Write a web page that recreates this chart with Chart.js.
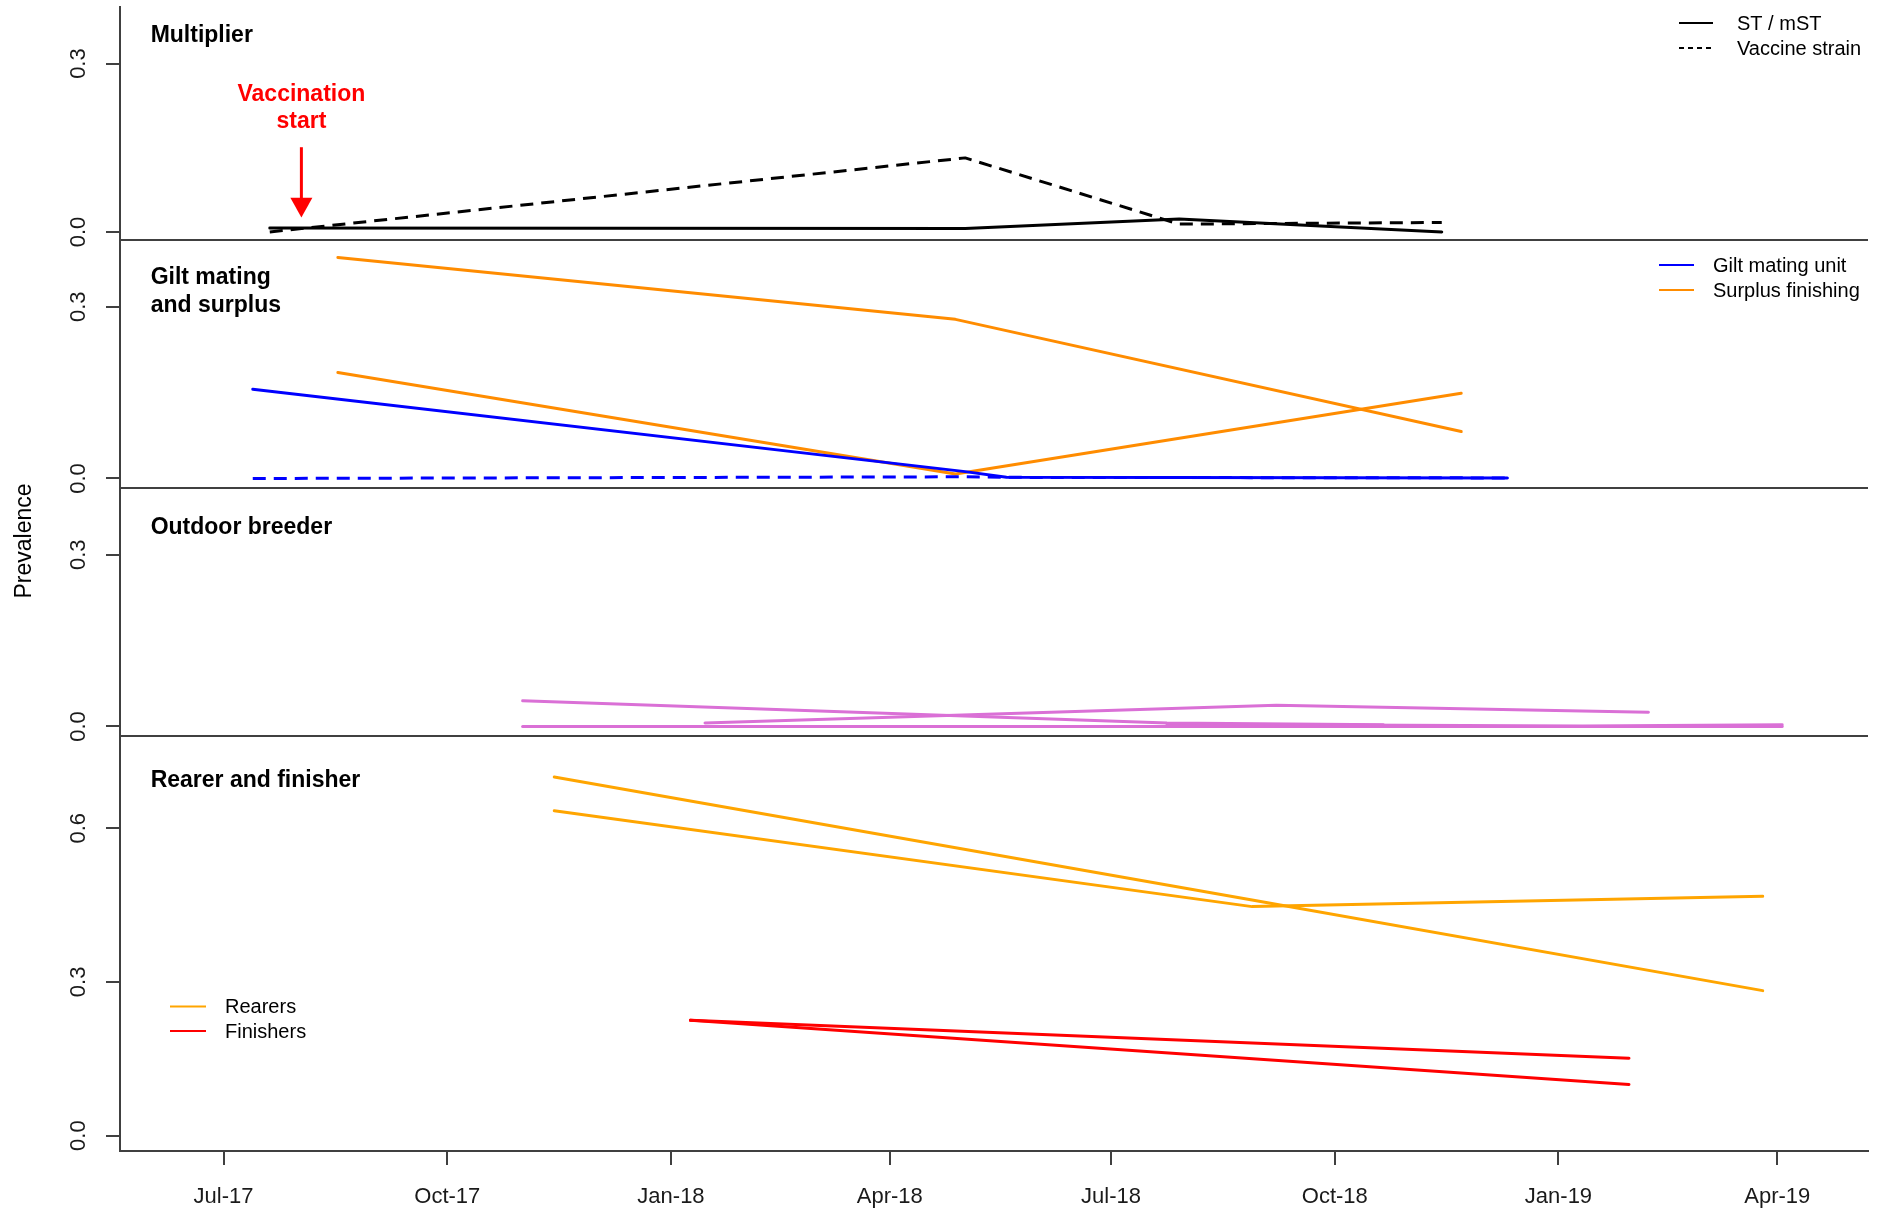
<!DOCTYPE html>
<html>
<head>
<meta charset="utf-8">
<title>Prevalence by unit</title>
<script src="https://cdn.jsdelivr.net/npm/chart.js@4.4.1/dist/chart.umd.min.js"></script>
<style>
  html, body { margin: 0; padding: 0; background: #ffffff; }
  canvas { display: block; }
</style>
</head>
<body>
<canvas id="prevChart" width="1880" height="1210"></canvas>
<script>
// x axis ticks
var tickDates  = ['2017-07-01', '2017-10-01', '2018-01-01', '2018-04-01', '2018-07-01', '2018-10-01', '2019-01-01', '2019-04-01'];
var tickLabels = ['Jul-17', 'Oct-17', 'Jan-18', 'Apr-18', 'Jul-18', 'Oct-18', 'Jan-19', 'Apr-19'];

// Multiplier
var multDates   = ['2017-07-20', '2018-05-02', '2018-07-29', '2018-11-14'];
var multST      = [0.007, 0.006, 0.023, 0.000];
var multVaccine = [0.000, 0.132, 0.014, 0.017];

// Gilt mating unit
var giltDates   = ['2017-07-13', '2018-05-02', '2018-05-19', '2018-12-11'];
var giltST      = [0.156, 0.012, 0.002, 0.001];
var giltVaccine = [0.000, 0.003, 0.002, 0.001];

// Surplus finishing
var surplusDates = ['2017-08-17', '2018-04-28', '2018-11-22'];
var surplusA     = [0.386, 0.278, 0.082];
var surplusB     = [0.185, 0.008, 0.149];

// Outdoor breeder
var outdoorDatesA = ['2017-11-01', '2018-07-24', '2018-10-21'];
var outdoorA      = [0.045, 0.006, 0.003];
var outdoorDatesB = ['2018-01-15', '2018-09-07', '2019-02-07'];
var outdoorB      = [0.006, 0.037, 0.025];
var outdoorDatesC = ['2017-11-01', '2018-05-02', '2019-04-03'];
var outdoorC      = [0.000, 0.000, 0.000];
var outdoorDatesD = ['2018-07-24', '2019-01-11', '2019-04-03'];
var outdoorD      = [0.004, 0.001, 0.003];

// Rearers and finishers
var rearerDates   = ['2017-11-14', '2018-08-28', '2019-03-26'];
var rearerA       = [0.700, 0.460, 0.283];
var rearerB       = [0.634, 0.447, 0.467];
var finisherDates = ['2018-01-09', '2019-01-30'];
var finisherA     = [0.225, 0.151];
var finisherB     = [0.225, 0.100];

var vaccinationDate = '2017-08-02';

var FONT = "'Liberation Sans', Arial, Helvetica, sans-serif";
var axisColor = '#404040';
var BLACK = '#000000', BLUE = '#0000ff', DARKORANGE = '#ff8c00',
    ORCHID = '#da70d6', ORANGE = '#ffa500', RED = '#ff0000';
var vaccineDash = [13, 8];

function day(s) {
  var p = s.split('-');
  return Date.UTC(+p[0], +p[1] - 1, +p[2]) / 86400000;
}
function pts(dates, vals) {
  return dates.map(function(d, i) { return {x: day(d), y: vals[i]}; });
}
function line(label, dates, vals, color, axis, dash) {
  return {
    label: label,
    data: pts(dates, vals),
    yAxisID: axis,
    borderColor: color,
    backgroundColor: color,
    borderWidth: 3,
    borderDash: dash || [],
    borderCapStyle: dash ? 'butt' : 'round',
    borderJoinStyle: 'round',
    pointRadius: 0,
    tension: 0,
    fill: false
  };
}

var tickDays = tickDates.map(day);
var xStart = tickDays[0];

function yAxis(min, max, stackWeight, order, tickVals) {
  return {
    type: 'linear',
    position: 'left',
    stack: 'panels',
    stackWeight: stackWeight,
    weight: order,
    min: min,
    max: max,
    border: { display: true, color: axisColor, width: 2 },
    grid: { drawOnChartArea: false, drawTicks: true, tickLength: 14, color: axisColor, lineWidth: 2 },
    ticks: {
      minRotation: 90, maxRotation: 90, crossAlign: 'center', padding: 12,
      color: '#1a1a1a', font: { family: FONT, size: 22 },
      callback: function(v) { return v.toFixed(1); }
    },
    afterBuildTicks: function(s) { s.ticks = tickVals.map(function(v) { return {value: v}; }); },
    afterFit: function(s) {
      s.width = 120;
      // labels may overhang the panel edges, keep the stack flush
      s.paddingTop = 0;
      s.paddingBottom = 0;
    }
  };
}

// titles, legends, separators and the vaccination arrow
var panelTitles = [
  { axis: 'yMult', lines: ['Multiplier'], at: [0.338] },
  { axis: 'yGilt', lines: ['Gilt mating', 'and surplus'], at: [0.339, 0.291] },
  { axis: 'yOut',  lines: ['Outdoor breeder'], at: [0.336] },
  { axis: 'yRear', lines: ['Rearer and finisher'], at: [0.681] }
];
var legendBoxes = [
  { lineX: 1679, lineLen: 34, textX: 1737, rows: [23, 48],
    items: [{ text: 'ST / mST', color: BLACK, dash: [] }, { text: 'Vaccine strain', color: BLACK, dash: [5, 4] }] },
  { lineX: 1659, lineLen: 35, textX: 1713, rows: [265, 290],
    items: [{ text: 'Gilt mating unit', color: BLUE, dash: [] }, { text: 'Surplus finishing', color: DARKORANGE, dash: [] }] },
  { lineX: 170, lineLen: 36, textX: 225, rows: [1006.5, 1031],
    items: [{ text: 'Rearers', color: ORANGE, dash: [] }, { text: 'Finishers', color: RED, dash: [] }] }
];

var decorPlugin = {
  id: 'panelDecor',
  afterDraw: function(chart) {
    var ctx = chart.ctx, area = chart.chartArea, sc = chart.scales;
    ctx.save();

    // panel separators
    ctx.strokeStyle = axisColor;
    ctx.lineWidth = 2;
    ['yMult', 'yGilt', 'yOut'].forEach(function(id) {
      var yb = sc[id].bottom;
      ctx.beginPath();
      ctx.moveTo(area.left, yb);
      ctx.lineTo(area.right, yb);
      ctx.stroke();
    });

    // panel titles
    var titleX = sc.x.getPixelForValue(day('2017-06-01'));
    ctx.fillStyle = '#000000';
    ctx.font = 'bold 23px ' + FONT;
    ctx.textAlign = 'left';
    ctx.textBaseline = 'alphabetic';
    panelTitles.forEach(function(t) {
      t.lines.forEach(function(txt, i) {
        ctx.fillText(txt, titleX, sc[t.axis].getPixelForValue(t.at[i]));
      });
    });

    // legends
    ctx.font = '20px ' + FONT;
    ctx.textBaseline = 'middle';
    legendBoxes.forEach(function(b) {
      b.items.forEach(function(it, i) {
        var y = b.rows[i];
        ctx.strokeStyle = it.color;
        ctx.lineWidth = 2;
        ctx.setLineDash(it.dash);
        ctx.beginPath();
        ctx.moveTo(b.lineX, y);
        ctx.lineTo(b.lineX + b.lineLen, y);
        ctx.stroke();
        ctx.setLineDash([]);
        ctx.fillStyle = '#000000';
        ctx.fillText(it.text, b.textX, y + 1);
      });
    });

    // y axis title
    ctx.save();
    ctx.translate(25, 541);
    ctx.rotate(-Math.PI / 2);
    ctx.font = '23px ' + FONT;
    ctx.textAlign = 'center';
    ctx.textBaseline = 'middle';
    ctx.fillStyle = '#000000';
    ctx.fillText('Prevalence', 0, 0);
    ctx.restore();

    // vaccination start arrow
    var ax = sc.x.getPixelForValue(day(vaccinationDate));
    var yTop = sc.yMult.getPixelForValue(0.151);
    var yBase = sc.yMult.getPixelForValue(0.061);
    var yTip = sc.yMult.getPixelForValue(0.026);
    ctx.strokeStyle = RED;
    ctx.fillStyle = RED;
    ctx.lineWidth = 3;
    ctx.beginPath();
    ctx.moveTo(ax, yTop);
    ctx.lineTo(ax, yBase + 1);
    ctx.stroke();
    ctx.beginPath();
    ctx.moveTo(ax - 11, yBase);
    ctx.lineTo(ax + 11, yBase);
    ctx.lineTo(ax, yTip);
    ctx.closePath();
    ctx.fill();
    ctx.font = 'bold 23px ' + FONT;
    ctx.textAlign = 'center';
    ctx.textBaseline = 'alphabetic';
    ctx.fillText('Vaccination', ax, sc.yMult.getPixelForValue(0.234));
    ctx.fillText('start', ax, sc.yMult.getPixelForValue(0.1855));

    ctx.restore();
  }
};

var ctx = document.getElementById('prevChart').getContext('2d');
var chart = new Chart(ctx, {
  type: 'line',
  data: {
    datasets: [
      line('ST / mST', multDates, multST, BLACK, 'yMult'),
      line('Vaccine strain', multDates, multVaccine, BLACK, 'yMult', vaccineDash),
      line('Gilt mating unit', giltDates, giltST, BLUE, 'yGilt'),
      line('Gilt mating unit (vaccine)', giltDates, giltVaccine, BLUE, 'yGilt', vaccineDash),
      line('Surplus finishing', surplusDates, surplusA, DARKORANGE, 'yGilt'),
      line('Surplus finishing 2', surplusDates, surplusB, DARKORANGE, 'yGilt'),
      line('Outdoor breeder A', outdoorDatesA, outdoorA, ORCHID, 'yOut'),
      line('Outdoor breeder B', outdoorDatesB, outdoorB, ORCHID, 'yOut'),
      line('Outdoor breeder C', outdoorDatesC, outdoorC, ORCHID, 'yOut'),
      line('Outdoor breeder D', outdoorDatesD, outdoorD, ORCHID, 'yOut'),
      line('Rearers', rearerDates, rearerA, ORANGE, 'yRear'),
      line('Rearers 2', rearerDates, rearerB, ORANGE, 'yRear'),
      line('Finishers', finisherDates, finisherA, RED, 'yRear'),
      line('Finishers 2', finisherDates, finisherB, RED, 'yRear')
    ]
  },
  options: {
    responsive: false,
    devicePixelRatio: 1,
    animation: false,
    parsing: true,
    layout: { padding: { top: 7, right: 12, left: 0, bottom: 0 }, autoPadding: false },
    plugins: { legend: { display: false }, tooltip: { enabled: false } },
    scales: {
      x: {
        type: 'linear',
        position: 'bottom',
        min: xStart - 42.6,
        max: xStart + 676.3,
        border: { display: true, color: axisColor, width: 2 },
        grid: { drawOnChartArea: false, tickLength: 14, color: axisColor, lineWidth: 2 },
        ticks: {
          padding: 19, maxRotation: 0, autoSkip: false,
          color: '#1a1a1a', font: { family: FONT, size: 22 },
          callback: function(v, i) { return tickLabels[i]; }
        },
        afterBuildTicks: function(s) { s.ticks = tickDays.map(function(v) { return {value: v}; }); },
        afterFit: function(s) {
          s.height = 59;
          s.paddingLeft = 0;
          s.paddingRight = 0;
        }
      },
      yRear: yAxis(-0.03, 0.78, 415, 1, [0, 0.3, 0.6]),
      yOut:  yAxis(-0.0166, 0.4166, 248, 2, [0, 0.3]),
      yGilt: yAxis(-0.0166, 0.4166, 248, 3, [0, 0.3]),
      yMult: yAxis(-0.0143, 0.4008, 233, 4, [0, 0.3])
    }
  },
  plugins: [decorPlugin]
});
</script>
</body>
</html>
